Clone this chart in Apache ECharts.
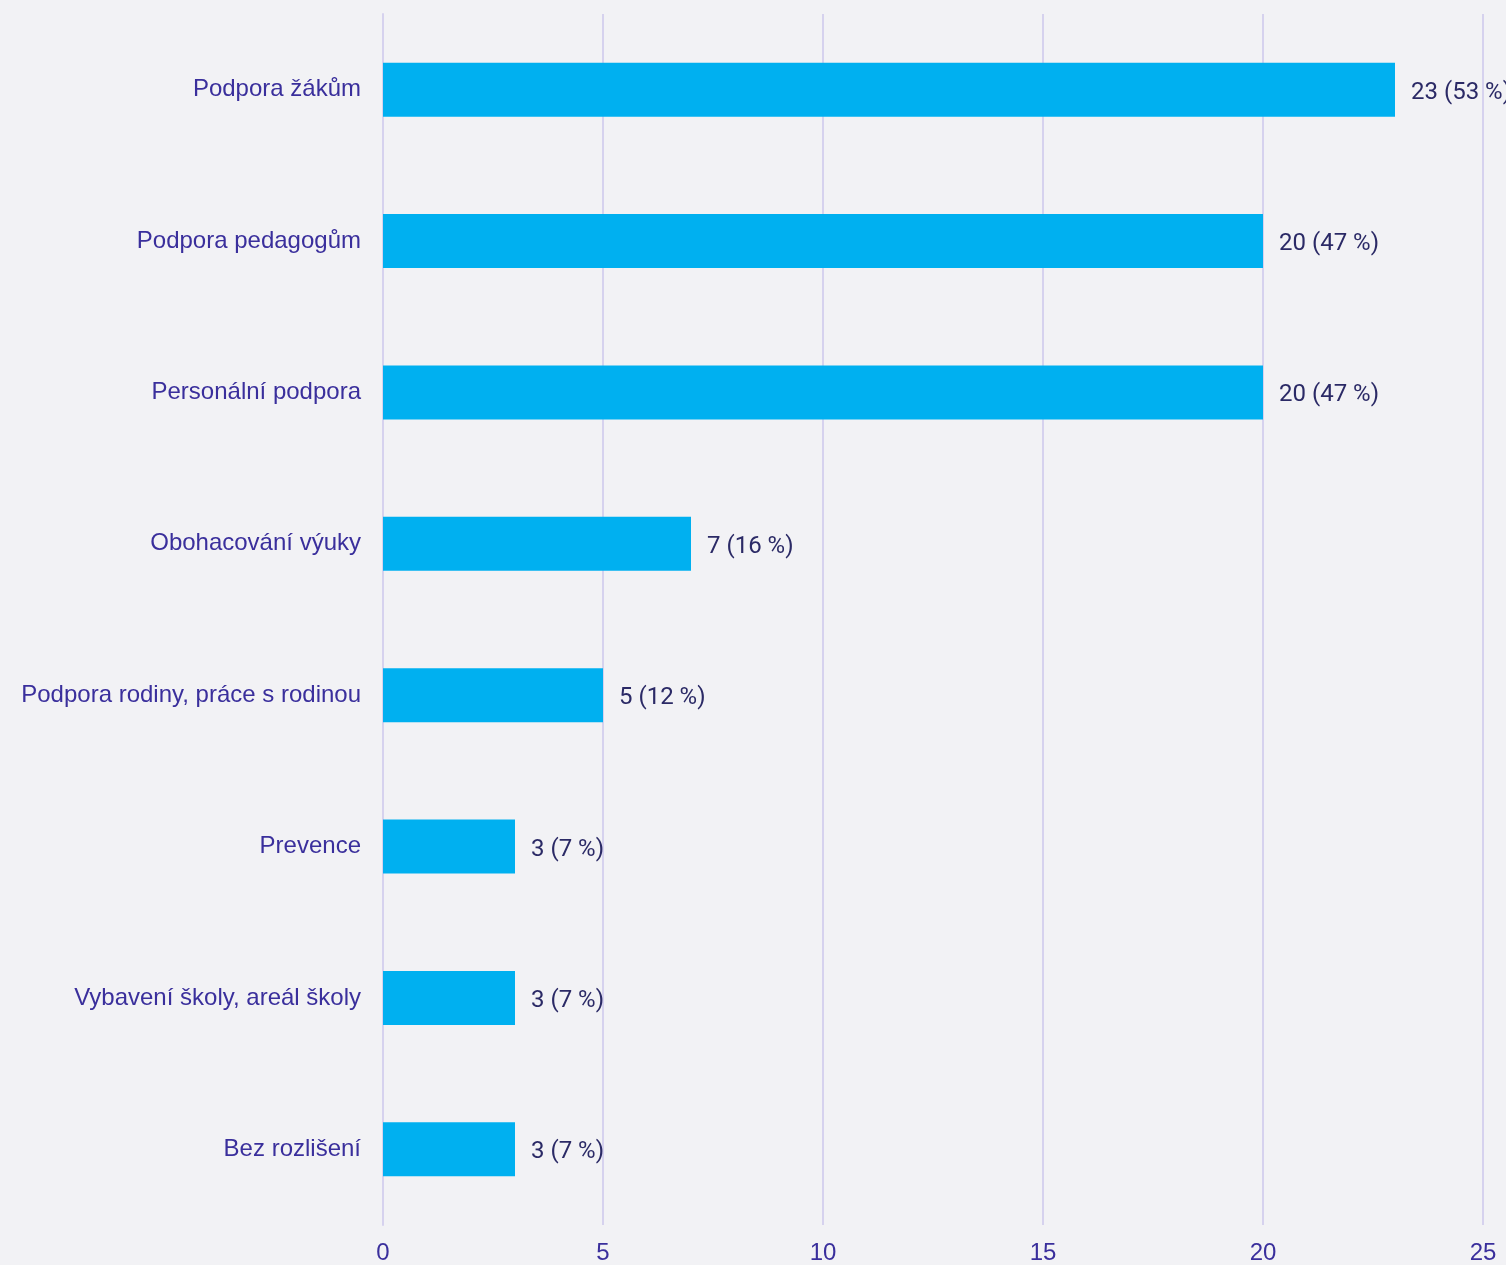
<!DOCTYPE html>
<html>
<head>
<meta charset="utf-8">
<script src="https://cdn.jsdelivr.net/npm/echarts@6/dist/echarts.min.js"></script>
<style>
    html, body {margin: 0; padding: 0; background: #f2f2f5;}
    #main {width: 1506px; height: 1265px;}
</style>
</head>
<body>
<div id="main"></div>
<script>
var categories = ['Podpora žákům', 'Podpora pedagogům', 'Personální podpora', 'Obohacování výuky',
    'Podpora rodiny, práce s rodinou', 'Prevence', 'Vybavení školy, areál školy', 'Bez rozlišení'];
var counts = [23, 20, 20, 7, 5, 3, 3, 3];
var percents = [53, 47, 47, 16, 12, 7, 7, 7];
var xTicks = [0, 5, 10, 15, 20, 25];

var chart = echarts.init(document.getElementById('main'));
var option = {
    backgroundColor: '#f2f2f5',
    animation: false,
    grid: {
        left: 383,
        right: 23,
        top: 14,
        bottom: 40,
        containLabel: false
    },
    xAxis: {
        type: 'value',
        min: xTicks[0],
        max: xTicks[xTicks.length - 1],
        interval: 5,
        axisLine: {show: false},
        axisTick: {show: false},
        axisLabel: {
            margin: 16,
            color: '#3a2f9c',
            fontSize: 24,
            fontFamily: 'Liberation Sans, Arial, sans-serif'
        },
        splitLine: {lineStyle: {color: '#d6d2ee', width: 2}}
    },
    yAxis: {
        type: 'category',
        inverse: true,
        data: categories,
        axisLine: {show: true, lineStyle: {color: '#d6d2ee', width: 2}},
        axisTick: {show: false},
        axisLabel: {
            margin: 22,
            padding: [4, 0, 0, 0],
            color: '#3a2f9c',
            fontSize: 24,
            fontFamily: 'Liberation Sans, Arial, sans-serif'
        }
    },
    series: [{
        type: 'bar',
        data: counts,
        barWidth: 54,
        itemStyle: {color: '#00b0f0'},
        label: {
            show: true,
            position: 'right',
            distance: 16,
            offset: [0, 3],
            color: '#2b2a66',
            fontSize: 24,
            fontFamily: 'Roboto, sans-serif',
            formatter: function (p) {
                return p.value + ' (' + percents[p.dataIndex] + ' %)';
            }
        }
    }]
};
chart.setOption(option);
</script>
</body>
</html>
